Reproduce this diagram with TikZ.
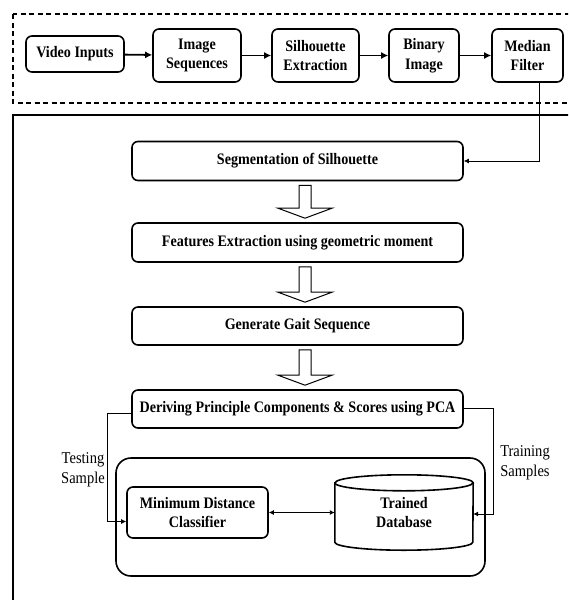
\documentclass[tikz,border=0pt]{standalone}
\usepackage{fontspec}
\setmainfont{Liberation Serif}
\newfontfamily\condfont[FakeStretch=0.88]{Liberation Serif}
\usetikzlibrary{arrows.meta,calc}
\begin{document}
\begin{tikzpicture}[x=1pt,y=-1pt,
  box/.style={draw, line width=1.6pt, rounded corners=6pt, align=center, inner sep=0pt,
    font=\condfont\fontsize{16}{19.5}\selectfont\bfseries},
  wide/.style={box, minimum width=331pt, minimum height=38pt},
  lbl/.style={align=center, inner sep=0pt, font=\condfont\fontsize{16.5}{20}\selectfont},
  flow/.style={line width=1.8pt, -{Latex[length=7pt,width=7pt]}},
  thinflow/.style={line width=0.8pt, -{Latex[length=5pt,width=5pt]}},
  hollow/.style={draw, line width=1pt, fill=white}]
\useasboundingbox (0,0) rectangle (568,600);
\clip (0,0) rectangle (568,600);
% frames
\draw[line width=1.1pt, dash pattern=on 5pt off 3.5pt] (13,14) rectangle (640,103);
\draw[line width=1.3pt] (13,115) rectangle (640,680);
% top row
\node[box, minimum width=98pt, minimum height=36pt] (vid) at (75,54) {Video Inputs};
\node[box, minimum width=88pt, minimum height=53pt] (seq) at (197,55.5) {Image\\Sequences};
\node[box, minimum width=87pt, minimum height=53pt] (sil) at (315.5,55.5) {Silhouette\\Extraction};
\node[box, minimum width=70pt, minimum height=53pt] (bin) at (424,55.5) {Binary\\Image};
\node[box, minimum width=71pt, minimum height=53pt] (med) at (527.5,55.5) {Median\\Filter};
\draw[flow] (vid) -- (seq);
\draw[flow] (seq) -- (sil);
\draw[flow] (sil) -- (bin);
\draw[flow] (bin) -- (med);
% main column
\node[wide, minimum height=39pt] (seg) at (297.5,161) {Segmentation of Silhouette};
\node[wide, minimum height=39pt] (feat) at (297.5,242.5) {Features Extraction using geometric moment};
\node[wide] (gait) at (297.5,326) {Generate Gait Sequence};
\node[wide] (der) at (297.5,409) {Deriving Principle Components \& Scores using PCA};
\draw[thinflow] ($(med.south)+(11.5,0)$) |- (seg.east);
% hollow arrows
\foreach \a/\b in {seg/feat, feat/gait, gait/der}{
  \coordinate (t) at ($(\a.south)+(7.5,4)$);
  \coordinate (h) at ($(\b.north)+(7.5,-4)$);
  \path[hollow] let \p1=(t), \p2=(h) in
    (\x1-6pt,\y1) -- (\x1+6pt,\y1) -- (\x1+6pt,\y2+10pt) -- (\x1+27pt,\y2+10pt)
    -- (\x2,\y2) -- (\x1-27pt,\y2+10pt) -- (\x1-6pt,\y2+10pt) -- cycle;
}
% bottom group
\node[draw, line width=1.6pt, rounded corners=15pt, minimum width=369pt, minimum height=118pt] (grp) at (300.5,517) {};
\node[box, minimum width=141pt, minimum height=51pt] (mdc) at (197.5,512.5) {Minimum Distance\\Classifier};
\node[inner sep=0pt, minimum width=138pt, minimum height=75pt, align=center,
  font=\condfont\fontsize{16}{19.5}\selectfont\bfseries] (db) at (404,512.5) {Trained\\Database};
\draw[line width=1.6pt]
  ($(db.north west)+(0,8)$) -- ($(db.south west)+(0,-8)$)
  arc[start angle=180, end angle=360, x radius=69pt, y radius=8pt]
  -- ($(db.north east)+(0,8)$)
  arc[start angle=0, end angle=180, x radius=69pt, y radius=8pt] -- cycle;
\draw[line width=1.6pt] ($(db.north west)+(0,8)$)
  arc[start angle=180, end angle=360, x radius=69pt, y radius=8pt];
\draw[line width=0.9pt, {Latex[length=5pt,width=5pt]}-{Latex[length=5pt,width=5pt]}] (mdc.east) -- (db.west);
\draw[thinflow] ($(der.west)+(0,4)$) -| ($(mdc.west)+(-19,9)$) -- ($(mdc.west)+(0,9)$);
\draw[thinflow] ($(der.east)+(0,-1)$) -| ($(db.east)+(20,1.5)$) -- ($(db.east)+(0,1.5)$);
\node[lbl] (tst) at (83,470) {Testing\\Sample};
\node[lbl] (trn) at (525,463) {Training\\Samples};
\end{tikzpicture}
\end{document}
